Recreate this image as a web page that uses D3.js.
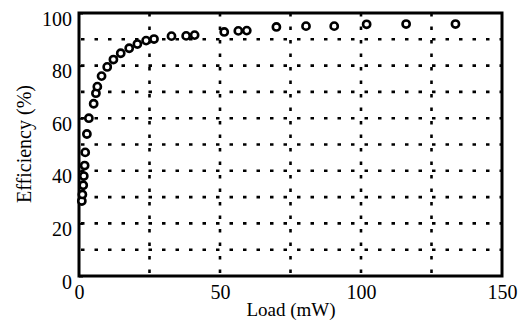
<!DOCTYPE html>
<html>
<head>
<meta charset="utf-8">
<script src="https://cdn.jsdelivr.net/npm/d3@7"></script>
<style>
  body { margin: 0; background: #fff; }
  svg { display: block; }
  .axis .domain { display: none; }
  .axis line { stroke: #000; stroke-width: 2; }
</style>
</head>
<body>
<div id="chart"></div>
<script>
// load (mW) and efficiency (%)
const load = [1.0, 1.2, 1.5, 1.7, 2.0, 2.2, 2.8, 3.5, 5.2, 6.0, 6.5, 8.0, 10.0, 12.2, 14.8, 17.8, 20.7, 23.8, 26.6,
  32.8, 38.0, 41.0, 51.5, 56.5, 59.5, 70.0, 80.5, 90.5, 102, 116, 133.5];
const efficiency = [28.5, 31, 34.5, 38, 42, 47, 54, 60, 65.5, 69.5, 72, 76, 79.5, 82.3, 84.7, 86.6, 88.2, 89.5, 90.1,
  91.2, 91.3, 91.6, 92.8, 93.2, 93.3, 94.7, 95, 95, 95.7, 95.8, 95.8];

const xTicks = [0, 50, 100, 150];
const yTicks = [0, 20, 40, 60, 80, 100];
const xGrid = [25, 50, 75, 100, 125];
const yGrid = [10, 20, 30, 40, 50, 60, 70, 80, 90];

const W = 524, H = 324;
const m = { left: 79, right: 502, top: 13, bottom: 276 };
const serif = '"Liberation Serif", "Times New Roman", serif';

const x = d3.scaleLinear().domain([0, 150]).range([m.left, m.right]);
const y = d3.scaleLinear().domain([0, 100]).range([m.bottom, m.top]);

const svg = d3.select('#chart').append('svg').attr('width', W).attr('height', H);

// dotted grid
svg.append('g')
  .selectAll('line')
  .data(yGrid)
  .enter()
  .append('line')
  .attr('x1', m.left + 2)
  .attr('x2', m.right)
  .attr('y1', (d) => y(d))
  .attr('y2', (d) => y(d))
  .attr('stroke', '#000')
  .attr('stroke-width', 2.6)
  .attr('stroke-dasharray', '3.5,10');

svg.append('g')
  .selectAll('line')
  .data(xGrid)
  .enter()
  .append('line')
  .attr('x1', (d) => x(d))
  .attr('x2', (d) => x(d))
  .attr('y1', m.top)
  .attr('y2', m.bottom)
  .attr('stroke', '#000')
  .attr('stroke-width', 2.6)
  .attr('stroke-dasharray', '3.5,10');

// axes
svg.append('g')
  .attr('class', 'axis')
  .attr('transform', 'translate(' + m.left + ',0)')
  .call(d3.axisLeft(y).tickValues(yTicks).tickSize(-4).tickPadding(7))
  .selectAll('text')
  .attr('dy', '0.6em')
  .style('font-family', serif)
  .style('font-size', '20px')
  .style('fill', '#000');

svg.append('g')
  .attr('class', 'axis')
  .attr('transform', 'translate(0,' + m.bottom + ')')
  .call(d3.axisBottom(x).tickValues(xTicks).tickSize(0).tickPadding(9))
  .selectAll('text')
  .style('font-family', serif)
  .style('font-size', '20px')
  .style('fill', '#000');

// frame
svg.append('rect')
  .attr('x', m.left)
  .attr('y', m.top)
  .attr('width', m.right - m.left)
  .attr('height', m.bottom - m.top)
  .attr('fill', 'none')
  .attr('stroke', '#000')
  .attr('stroke-width', 3);

// points
svg.append('g')
  .selectAll('circle')
  .data(load)
  .enter()
  .append('circle')
  .attr('cx', (d) => x(d))
  .attr('cy', (d, i) => y(efficiency[i]))
  .attr('r', 3.6)
  .attr('fill', '#fff')
  .attr('stroke', '#000')
  .attr('stroke-width', 2.6);

// titles
svg.append('text')
  .attr('x', 291)
  .attr('y', 316)
  .attr('text-anchor', 'middle')
  .style('font-family', serif)
  .style('font-size', '19px')
  .text('Load (mW)');

svg.append('text')
  .attr('transform', 'translate(31,144) rotate(-90)')
  .attr('text-anchor', 'middle')
  .style('font-family', serif)
  .style('font-size', '20px')
  .text('Efficiency (%)');
</script>
</body>
</html>
